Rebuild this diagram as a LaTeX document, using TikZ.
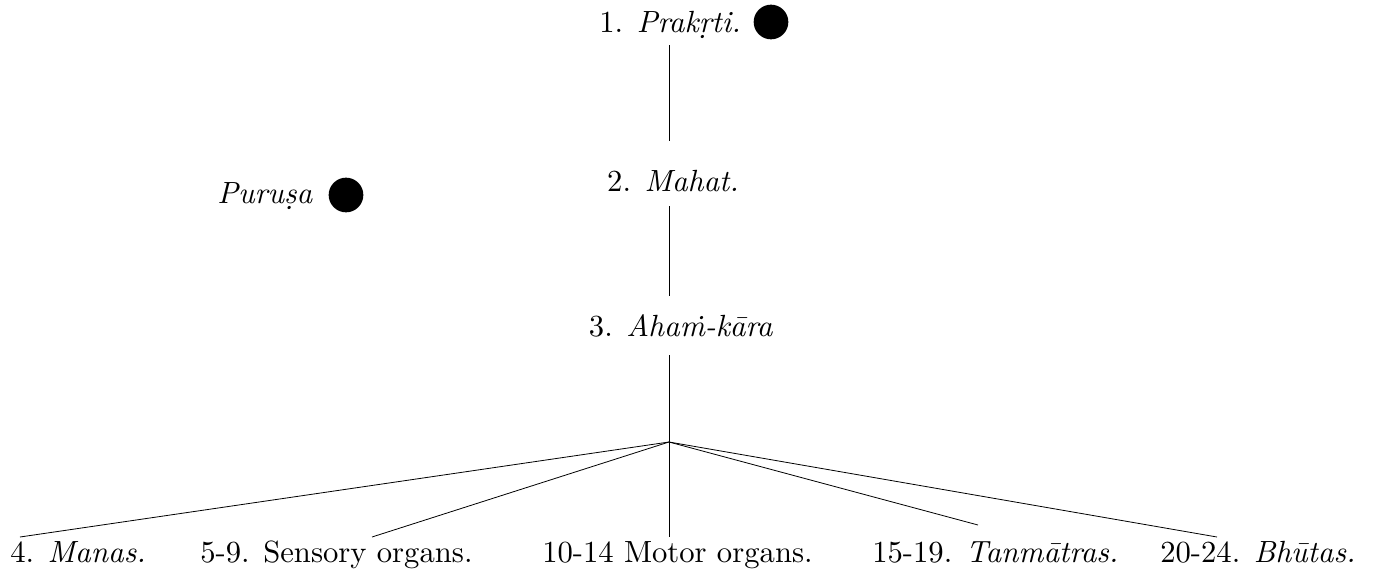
\documentclass[tikz,border=0pt]{standalone}
\newcommand\skt[1]{\scalebox{2.3}{#1}}
\begin{document}
\begin{tikzpicture}[x=0.75pt,y=-0.75pt,
  lbl/.style={inner sep=0pt,font=\fontsize{10}{12}\selectfont},
  dot/.style={circle,fill=black,inner sep=0pt,minimum size=26pt},
  link/.style={line width=0.6pt}]
\useasboundingbox (0,0) rectangle (1381,571);
% labels
\node[lbl,anchor=base] (prak) at (670,32) {\skt{1. \textit{Prak\d{r}ti.}}};
\node[dot] (pdot) at (771,22) {};
\node[lbl,anchor=base] (puru) at (265,203) {\skt{\textit{Puru\d{s}a}}};
\node[dot] (udot) at (346,195) {};
\node[lbl,anchor=base] (mahat) at (673,191) {\skt{2. \textit{Mahat.}}};
\node[lbl,anchor=base] (aham) at (681,336) {\skt{3. \textit{Aha\.{m}-k\={a}ra}}};
\node[lbl,anchor=base west] (manas) at (10,562) {\skt{4. \textit{Manas.}}};
\node[lbl,anchor=base west] (sens) at (200,562) {\skt{5-9. Sensory organs.}};
\node[lbl,anchor=base west] (motor) at (542,562) {\skt{10-14 Motor organs.}};
\node[lbl,anchor=base west] (tan) at (872,562) {\skt{15-19. \textit{Tanm\={a}tras.}}};
\node[lbl,anchor=base west] (bhu) at (1160,562) {\skt{20-24. \textit{Bh\={u}tas.}}};
% connector points
\coordinate (p1) at (669,45);
\coordinate (m0) at (669,141);
\coordinate (m1) at (669,206);
\coordinate (a0) at (669,296);
\coordinate (a1) at (669,355);
\coordinate (b) at (669,442);
\coordinate (eman) at (20,537);
\coordinate (esen) at (372,537);
\coordinate (emot) at (669,537);
\coordinate (etan) at (978,525);
\coordinate (ebhu) at (1217,537);
% connectors
\draw[link] (p1) -- (m0);
\draw[link] (m1) -- (a0);
\draw[link] (a1) -- (b);
\draw[link] (b) -- (eman);
\draw[link] (b) -- (esen);
\draw[link] (b) -- (emot);
\draw[link] (b) -- (etan);
\draw[link] (b) -- (ebhu);
\end{tikzpicture}
\end{document}
